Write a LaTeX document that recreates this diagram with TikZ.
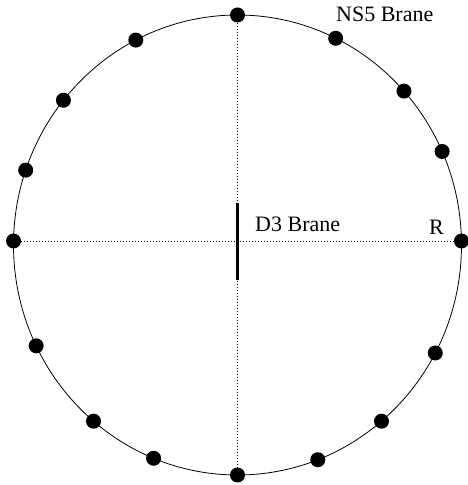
\documentclass[tikz,border=0pt]{standalone}
\usepackage{fontspec}
\setmainfont{Liberation Serif}
\begin{document}
\begin{tikzpicture}[x=1pt,y=1pt,
  nsdot/.style={circle,fill=black,inner sep=0pt,minimum size=15pt},
  guide/.style={line width=0.8pt,dash pattern=on 1pt off 2pt},
  lbl/.style={inner sep=0pt,anchor=base west,font=\fontsize{22}{26}\selectfont}]
\useasboundingbox (0,0) rectangle (467,485);
\coordinate (O) at (237.5,240);
\draw[line width=0.8pt] (O) ellipse [x radius=224, y radius=230];
% NS5 branes round the circle
\foreach \a [count=\i] in {90,117,141,161,179,206,230,248,270,291,310,332,1,24,42,64}
  \path (O) ++(\a:224 and 230) node[nsdot] (ns\i) {};
\draw[guide] (ns1) -- (ns9);
\draw[guide] (ns5) -- (ns13);
% D3 brane in the middle
\node[fill=black,inner sep=0pt,minimum width=3pt,minimum height=77pt] (d3) at (237.7,243.7) {};
\node[lbl] (d3lbl) at (255,253) {D3 Brane};
\node[lbl] (rlbl) at (429,250) {R};
\node[lbl] (nslbl) at (336,463) {NS5 Brane};
\end{tikzpicture}
\end{document}
